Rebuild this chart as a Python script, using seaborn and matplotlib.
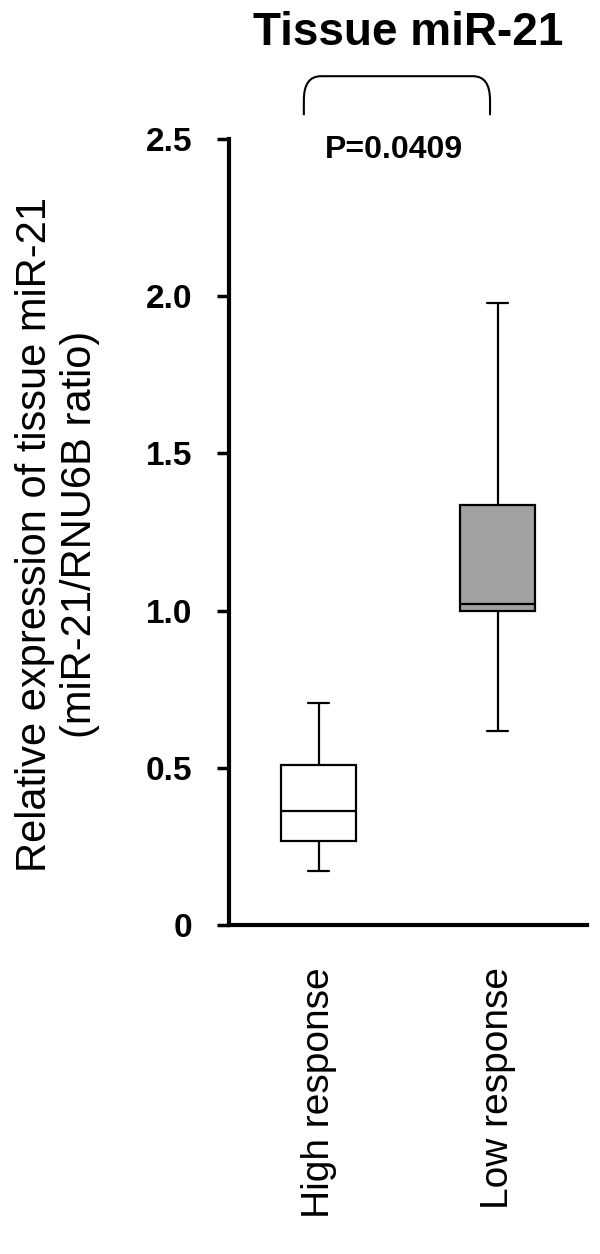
import numpy as np
import pandas as pd
import matplotlib
matplotlib.use("Agg")
import matplotlib.pyplot as plt
from matplotlib.path import Path
from matplotlib.patches import PathPatch
import seaborn as sns

# Values (5 points per group: min, Q1, median, Q3, max)
groups = ["High response", "Low response"]
high_response = [0.172, 0.268, 0.365, 0.509, 0.706]
low_response = [0.618, 1.000, 1.021, 1.335, 1.977]
box_colors = ["white", "#a2a2a2"]
y_ticks = [0, 0.5, 1.0, 1.5, 2.0, 2.5]
y_tick_labels = ["0", "0.5", "1.0", "1.5", "2.0", "2.5"]
p_label = "P=0.0409"

data = pd.DataFrame({
    "group": [groups[0]] * len(high_response) + [groups[1]] * len(low_response),
    "value": high_response + low_response,
})

sns.set_style("ticks")
plt.rcParams["font.family"] = ["Liberation Sans", "DejaVu Sans"]
# plain black text and axes instead of seaborn's dark grey
for key in ["text.color", "axes.labelcolor", "xtick.color", "ytick.color", "axes.edgecolor"]:
    plt.rcParams[key] = "black"

fig = plt.figure(figsize=(6, 12.54), dpi=100)
ax = fig.add_axes([0.3817, 0.2620, 0.5967, 0.6273])

# Box plot, whiskers at min/max
sns.boxplot(data=data, x="group", y="value", hue="group", order=groups,
            palette=dict(zip(groups, box_colors)), legend=False,
            width=0.42, whis=(0, 100), linecolor="black", linewidth=1.6,
            showfliers=False, ax=ax)

# Narrower caps like the reference
for cont in ax.containers:
    for cap in getattr(cont, "caps", []):
        xd = cap.get_xdata()
        mid = (xd[0] + xd[1]) / 2
        cap.set_xdata([mid - 0.058, mid + 0.058])

ax.set_xlim(-0.5, 1.5)
ax.set_ylim(0, 2.5)
ax.set_yticks(y_ticks)
ax.set_yticklabels(y_tick_labels, fontsize=24, fontweight="bold")
ax.set_xticks(range(len(groups)))
ax.set_xticklabels(groups, rotation=90, fontsize=28, va="top")
ax.tick_params(axis="x", length=0, pad=30)
ax.tick_params(axis="y", length=8.5, width=2.5, pad=18, direction="out")
ax.set_xlabel("")
ax.set_ylabel("")
sns.despine(ax=ax)
for side in ["left", "bottom"]:
    ax.spines[side].set_linewidth(3)

# Title and y label
fig.text(0.68, 1 - 45 / 1254, "Tissue miR-21", ha="center", va="baseline",
         fontsize=33, fontweight="bold")
fig.text(57.5 / 600, 1 - 534 / 1254,
         "Relative expression of tissue miR-21\n(miR-21/RNU6B ratio)",
         rotation=90, ha="center", va="center", fontsize=30, linespacing=1.15)

# Significance bracket with rounded corners
x0, x1 = -0.082, 0.958
y_top, y_bot = 2.699, 2.575
rx, ry = 0.095, 0.076
verts = [(x0, y_bot), (x0, y_top - ry), (x0, y_top), (x0 + rx, y_top),
         (x1 - rx, y_top), (x1, y_top), (x1, y_top - ry), (x1, y_bot)]
codes = [Path.MOVETO, Path.LINETO, Path.CURVE3, Path.CURVE3,
         Path.LINETO, Path.CURVE3, Path.CURVE3, Path.LINETO]
ax.add_patch(PathPatch(Path(verts, codes), facecolor="none", edgecolor="black",
                       linewidth=1.5, clip_on=False))
ax.text(0.461, 0.9755, p_label, transform=ax.transAxes, ha="center",
        va="baseline", fontsize=23, fontweight="bold", clip_on=False)

plt.savefig("out.png", dpi=100)
